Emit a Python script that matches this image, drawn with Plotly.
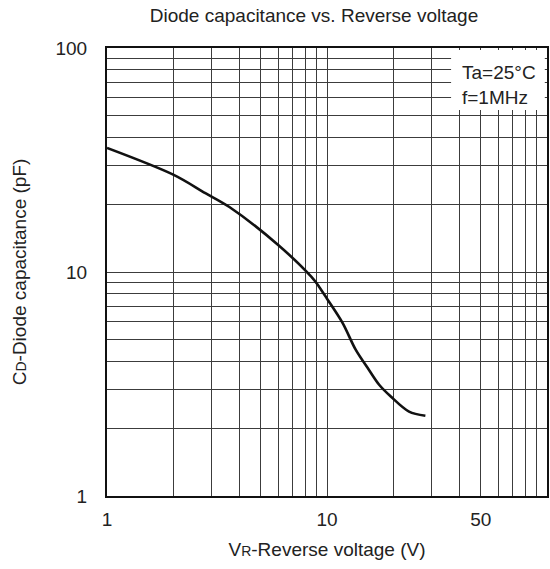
import plotly.graph_objects as go

# Data (reverse voltage in V, capacitance in pF)
voltage_v = [1.0, 2.0, 2.8, 3.6, 6.0, 8.5, 9.2, 10.0, 11.8, 13.5, 15.5, 17.3, 19.5, 23.6, 28.0]
capacitance_pf = [35.8, 27.2, 22.5, 19.5, 13.2, 9.5, 8.6, 7.6, 5.9, 4.5, 3.66, 3.13, 2.78, 2.38, 2.28]

# Axis grid/tick definitions
x_grid_vals = [1, 2, 3, 4, 5, 6, 7, 8, 9, 10, 20, 30, 40, 50, 60, 70, 80, 90, 100]
x_label_map = {1: "1", 10: "10", 50: "50"}
y_grid_vals = [1, 2, 3, 4, 5, 6, 7, 8, 9, 10, 20, 30, 40, 50, 60, 70, 80, 90, 100]
y_label_map = {1: "1", 10: "10", 100: "100"}

FONT = "Liberation Sans, Arial, sans-serif"
TXT = "#222222"
GRID = "#3c3c3c"

fig = go.Figure()
fig.add_trace(go.Scatter(
    x=voltage_v, y=capacitance_pf, mode="lines",
    line=dict(color="#111111", width=2.6, shape="spline", smoothing=0.9),
    showlegend=False, hoverinfo="skip",
))

fig.update_layout(
    width=550, height=569,
    margin=dict(l=107, r=3, t=48, b=73, autoexpand=False),
    paper_bgcolor="white", plot_bgcolor="white",
    font=dict(family=FONT, size=19, color=TXT),
    title=dict(text="Diode capacitance vs. Reverse voltage",
               x=314 / 550, xref="container", xanchor="center",
               y=1 - 15 / 569, yref="container", yanchor="middle",
               font=dict(family=FONT, size=19, color=TXT)),
    showlegend=False,
)

fig.update_xaxes(
    type="log", range=[0, 2], automargin=False,
    tickmode="array", tickvals=x_grid_vals,
    ticktext=[x_label_map.get(v, "") for v in x_grid_vals],
    showgrid=True, gridcolor=GRID, gridwidth=1,
    showline=True, linecolor="#111111", linewidth=2, mirror=True,
    ticks="", ticklabelstandoff=5,
    tickfont=dict(family=FONT, size=19, color=TXT),
    title=dict(text='V<span style="font-size:14px">R</span>-Reverse voltage (V)',
               font=dict(family=FONT, size=19, color=TXT), standoff=14),
    zeroline=False,
)
fig.update_yaxes(
    type="log", range=[0, 2], automargin=False,
    tickmode="array", tickvals=y_grid_vals,
    ticktext=[y_label_map.get(v, "") for v in y_grid_vals],
    showgrid=True, gridcolor=GRID, gridwidth=1,
    showline=True, linecolor="#111111", linewidth=2, mirror=True,
    ticks="", ticklabelstandoff=14,
    tickfont=dict(family=FONT, size=19, color=TXT),
    title=dict(text='C<span style="font-size:14px">D</span>-Diode capacitance (pF)',
               font=dict(family=FONT, size=19, color=TXT), standoff=24),
    zeroline=False,
)

# White box for condition note (covers grid)
fig.add_shape(type="rect", xref="paper", yref="paper",
              x0=0.782, x1=0.995, y0=0.8616, y1=0.9955,
              fillcolor="white", line=dict(width=0), layer="above")
fig.add_annotation(xref="paper", yref="paper", x=0.803, y=0.917,
                   xanchor="left", yanchor="middle", align="left",
                   text="Ta=25°C<br>f=1MHz", showarrow=False,
                   font=dict(family=FONT, size=19, color=TXT))

fig.write_html("out.html",
               config={"displayModeBar": False},
               post_script="document.body.style.margin='0';document.body.style.overflow='hidden';")
